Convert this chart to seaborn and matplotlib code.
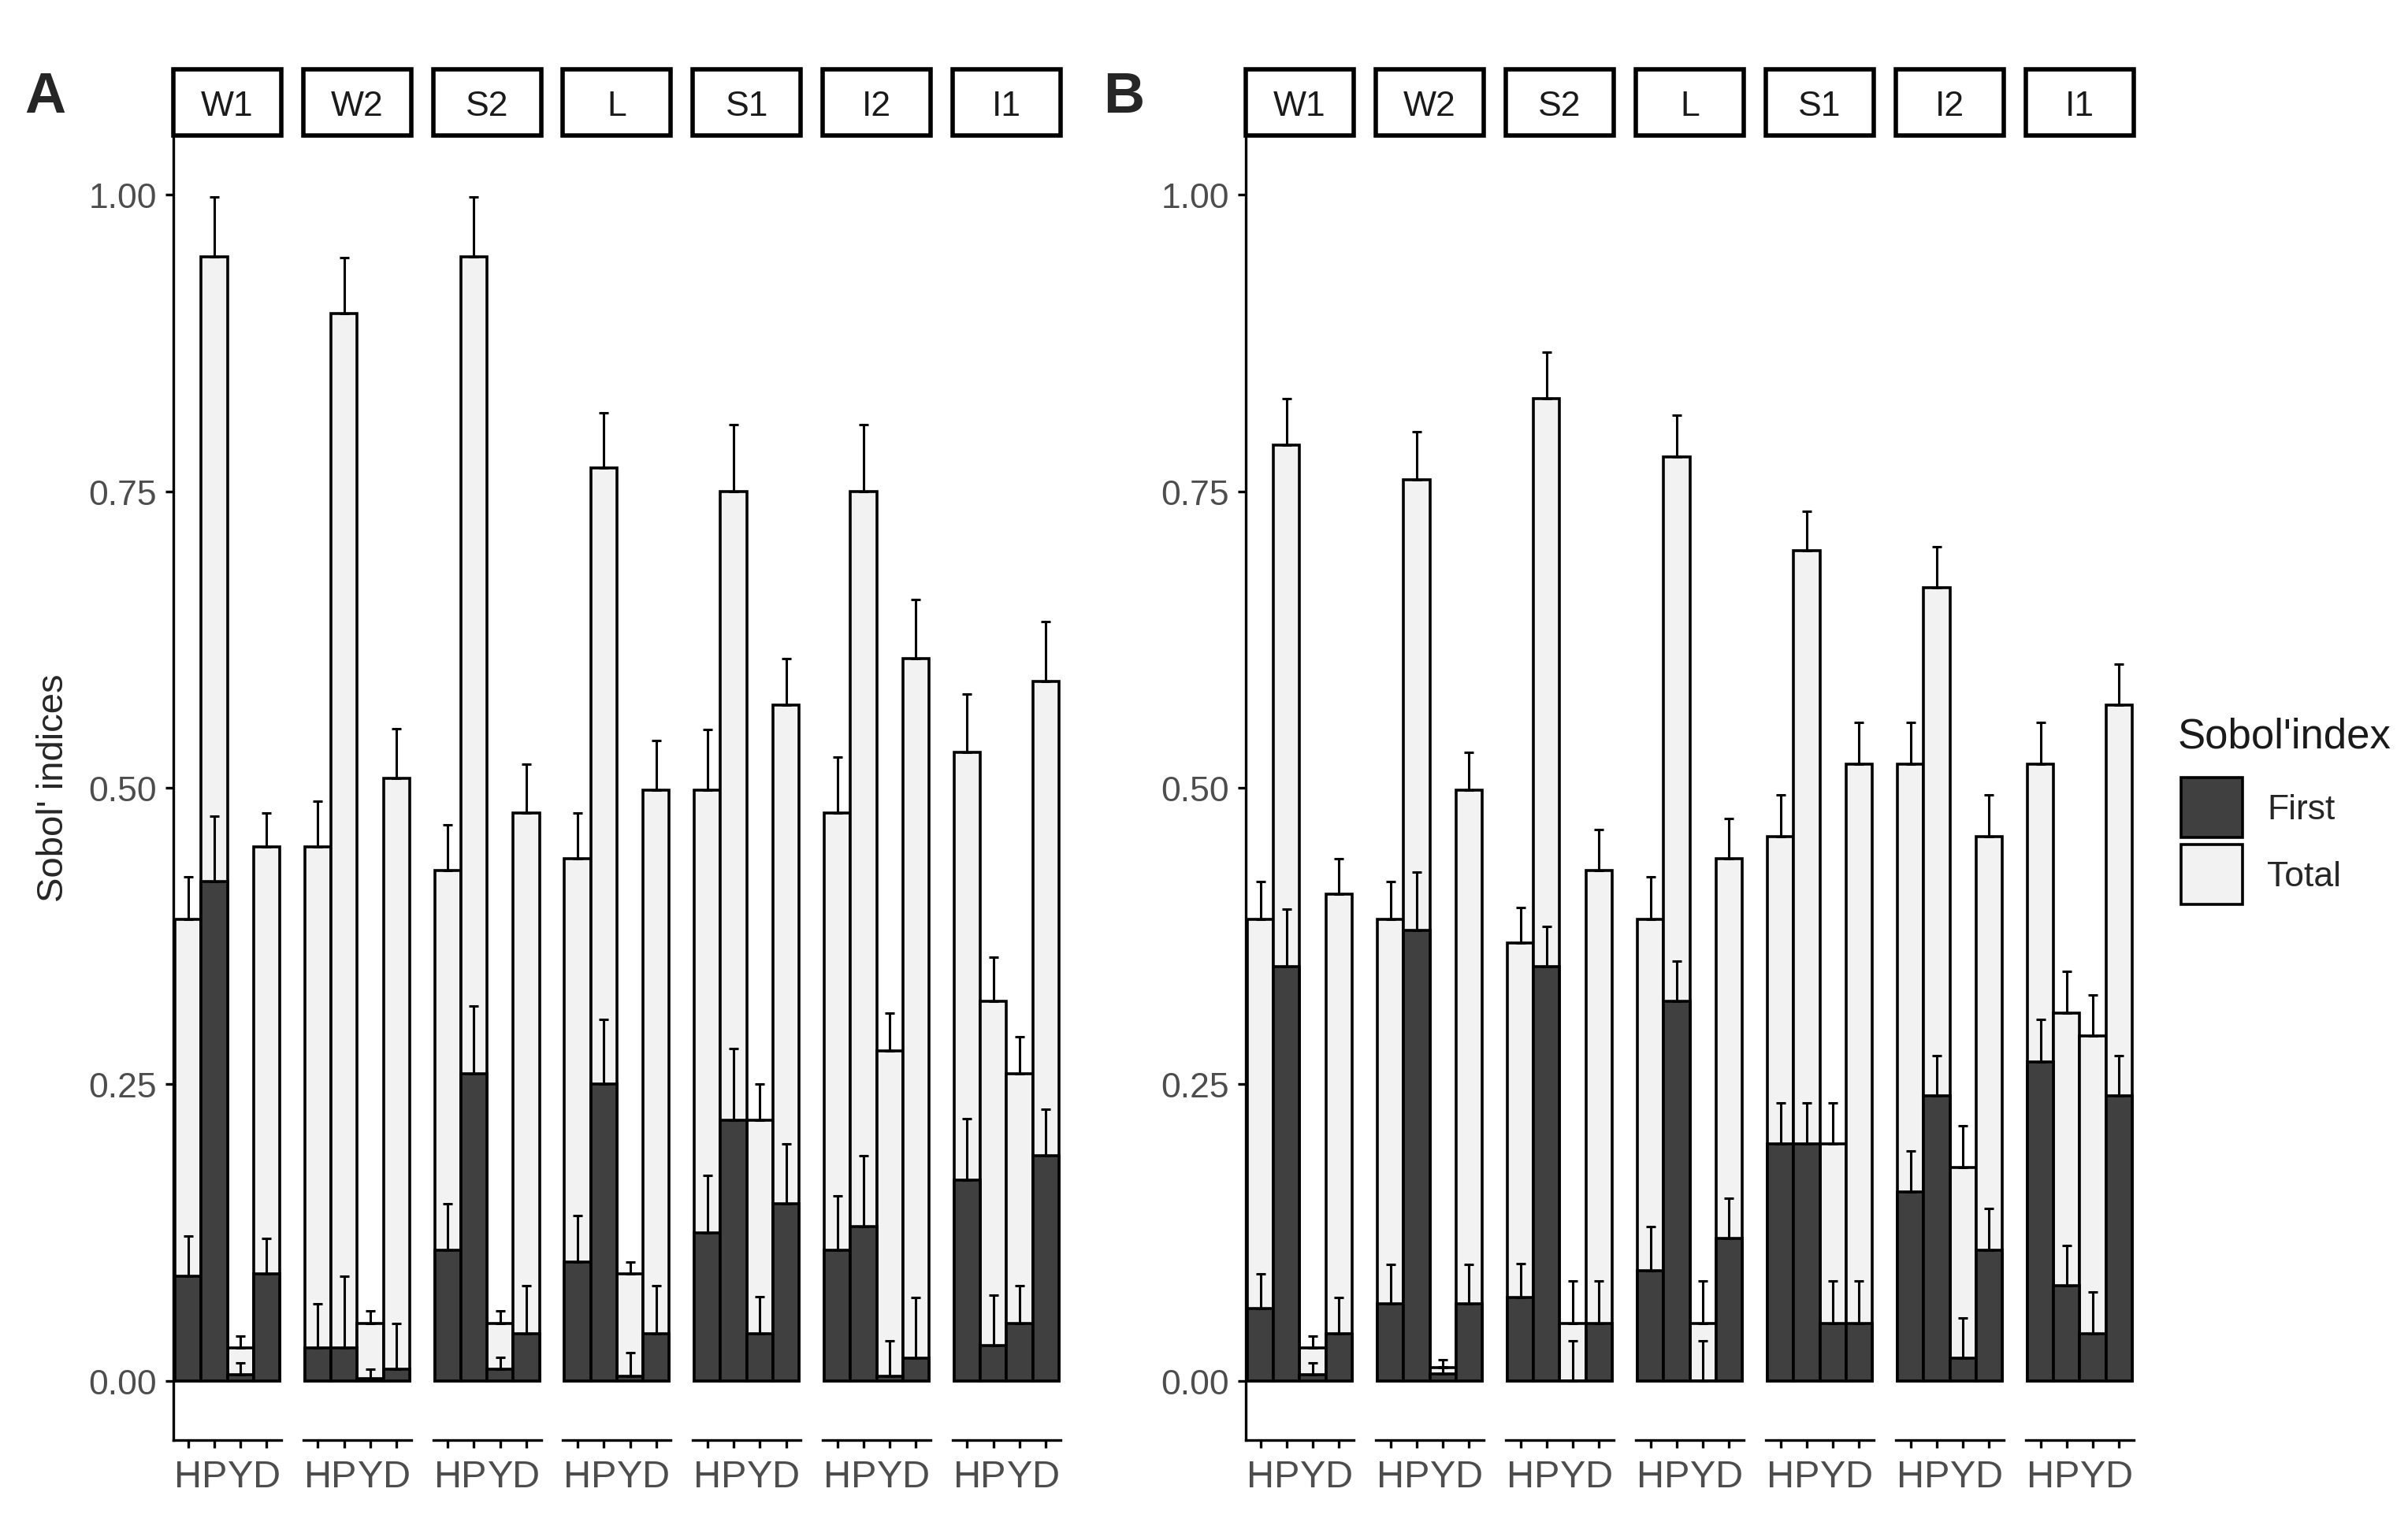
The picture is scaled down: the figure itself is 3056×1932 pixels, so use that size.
import matplotlib
matplotlib.use("Agg")
import matplotlib.pyplot as plt
from matplotlib.patches import Rectangle, Patch
import seaborn as sns
import pandas as pd
import numpy as np

# facets (outputs) and parameters
outputs = ["W1", "W2", "S2", "L", "S1", "I2", "I1"]
params = ["H", "P", "Y", "D"]

# panel A: first-order / total indices with their error sizes, one row per facet
first_A = [[0.088, 0.421, 0.005, 0.090],
           [0.028, 0.028, 0.002, 0.010],
           [0.110, 0.259, 0.010, 0.040],
           [0.100, 0.250, 0.004, 0.040],
           [0.125, 0.220, 0.040, 0.149],
           [0.110, 0.130, 0.004, 0.019],
           [0.169, 0.030, 0.048, 0.190]]
first_A_err = [[0.034, 0.055, 0.010, 0.030],
               [0.037, 0.060, 0.008, 0.038],
               [0.039, 0.057, 0.010, 0.040],
               [0.039, 0.055, 0.020, 0.040],
               [0.048, 0.060, 0.031, 0.051],
               [0.046, 0.060, 0.030, 0.051],
               [0.052, 0.042, 0.032, 0.039]]
total_A = [[0.389, 0.948, 0.028, 0.450],
           [0.450, 0.900, 0.048, 0.508],
           [0.430, 0.948, 0.048, 0.479],
           [0.440, 0.770, 0.090, 0.498],
           [0.498, 0.750, 0.220, 0.570],
           [0.479, 0.750, 0.278, 0.609],
           [0.530, 0.320, 0.259, 0.590]]
total_A_err = [[0.036, 0.050, 0.010, 0.029],
               [0.039, 0.047, 0.011, 0.042],
               [0.039, 0.050, 0.011, 0.041],
               [0.039, 0.046, 0.010, 0.042],
               [0.051, 0.056, 0.030, 0.039],
               [0.047, 0.056, 0.032, 0.050],
               [0.049, 0.037, 0.031, 0.050]]

# panel B
first_B = [[0.061, 0.349, 0.005, 0.040],
           [0.065, 0.380, 0.006, 0.065],
           [0.070, 0.349, 0.000, 0.048],
           [0.093, 0.320, 0.000, 0.120],
           [0.200, 0.200, 0.048, 0.048],
           [0.159, 0.240, 0.019, 0.110],
           [0.269, 0.080, 0.040, 0.240]]
first_B_err = [[0.029, 0.049, 0.010, 0.030],
               [0.033, 0.049, 0.006, 0.033],
               [0.029, 0.034, 0.034, 0.036],
               [0.037, 0.034, 0.034, 0.034],
               [0.034, 0.034, 0.036, 0.036],
               [0.035, 0.034, 0.034, 0.035],
               [0.036, 0.034, 0.035, 0.034]]
total_B = [[0.389, 0.789, 0.028, 0.410],
           [0.389, 0.760, 0.011, 0.498],
           [0.369, 0.828, 0.048, 0.430],
           [0.389, 0.779, 0.048, 0.440],
           [0.459, 0.700, 0.200, 0.520],
           [0.520, 0.669, 0.180, 0.459],
           [0.520, 0.310, 0.291, 0.570]]
total_B_err = [[0.032, 0.039, 0.010, 0.030],
               [0.032, 0.040, 0.007, 0.032],
               [0.030, 0.039, 0.036, 0.035],
               [0.036, 0.035, 0.036, 0.034],
               [0.035, 0.033, 0.034, 0.035],
               [0.035, 0.034, 0.035, 0.035],
               [0.035, 0.035, 0.034, 0.034]]

FIRST_COL = "#404040"
TOTAL_COL = "#F2F2F2"
TICK_COL = "#4D4D4D"

sns.set_theme(style="ticks")
plt.rcParams["font.family"] = ["Liberation Sans", "DejaVu Sans"]

W, H = 3056, 1933
fig = plt.figure(figsize=(W / 200, H / 200), dpi=200)

ax_top, ax_bot = 173, 1829
strip_top = 89
facet_w = 137


def draw_panel(x0, step, first, first_err, total, total_err):
    for i, name in enumerate(outputs):
        left = x0 + step * i
        ax = fig.add_axes([left / W, 1 - ax_bot / H, facet_w / W, (ax_bot - ax_top) / H])
        df_t = pd.DataFrame({"param": params, "value": total[i], "se": total_err[i]})
        df_f = pd.DataFrame({"param": params, "value": first[i], "se": first_err[i]})
        sns.barplot(data=df_t, x="param", y="value", order=params, width=1.0,
                    color=TOTAL_COL, saturation=1, edgecolor="black", linewidth=1.3,
                    errorbar=None, ax=ax)
        sns.barplot(data=df_f, x="param", y="value", order=params, width=1.0,
                    color=FIRST_COL, saturation=1, edgecolor="black", linewidth=1.3,
                    errorbar=None, ax=ax)
        xs = np.arange(len(params))
        for d in (df_t, df_f):
            ax.errorbar(xs, d["value"] + d["se"] / 2, yerr=d["se"] / 2, fmt="none",
                        ecolor="black", elinewidth=1.1, capsize=2, capthick=1.1, zorder=5)
        ax.set_xlim(-0.56, 3.56)
        ax.set_ylim(-0.05, 1.05)
        ax.set_xlabel("")
        ax.set_ylabel("")
        ax.set_facecolor("white")
        for s in ("top", "right"):
            ax.spines[s].set_visible(False)
        ax.spines["bottom"].set_linewidth(1.2)
        ax.spines["bottom"].set_color("black")
        ax.tick_params(axis="x", length=3.6, width=1.2, colors="black",
                       labelsize=17.5, labelcolor=TICK_COL, pad=5)
        if i == 0:
            ax.spines["left"].set_linewidth(1.2)
            ax.spines["left"].set_color("black")
            ax.set_yticks([0, 0.25, 0.5, 0.75, 1.0])
            ax.set_yticklabels(["0.00", "0.25", "0.50", "0.75", "1.00"])
            ax.tick_params(axis="y", length=3.6, width=1.2, colors="black",
                           labelsize=16, labelcolor=TICK_COL, pad=4)
        else:
            ax.spines["left"].set_visible(False)
            ax.set_yticks([])
        # facet strip
        sh = (ax_top - strip_top) / (ax_bot - ax_top)
        ax.add_patch(Rectangle((0, 1), 1, sh, transform=ax.transAxes, clip_on=False,
                               facecolor="white", edgecolor="black", linewidth=2.0))
        ax.text(0.5, 1 + sh / 2 - 0.003, name, transform=ax.transAxes, ha="center",
                va="center", fontsize=16, color="#1A1A1A")


draw_panel(220, 164.8, first_A, first_A_err, total_A, total_A_err)
draw_panel(1581, 165.0, first_B, first_B_err, total_B, total_B_err)

fig.text(57 / W, 1 - 124 / H, "A", fontsize=26, fontweight="bold", ha="center", va="center")
fig.text(1426 / W, 1 - 124 / H, "B", fontsize=26, fontweight="bold", ha="center", va="center")
fig.text(68 / W, 1 - 1000 / H, "Sobol' indices", rotation=90, fontsize=17,
         ha="center", va="center")

# legend: title as its own text, keys below it
fig.text(2764 / W, 1 - 936 / H, "Sobol'index", fontsize=19, ha="left", va="center",
         color="#1A1A1A")
handles = [Patch(facecolor=FIRST_COL, edgecolor="black", linewidth=1.3, label="First"),
           Patch(facecolor=TOTAL_COL, edgecolor="black", linewidth=1.3, label="Total")]
leg = fig.legend(handles=handles, loc="upper left",
                 bbox_to_anchor=(2768 / W, 1 - 988 / H), frameon=False, borderpad=0,
                 borderaxespad=0, fontsize=16, handlelength=1.75, handleheight=2.25,
                 labelspacing=0.2, handletextpad=0.7)

fig.savefig("out.png", dpi=200, facecolor="white")
